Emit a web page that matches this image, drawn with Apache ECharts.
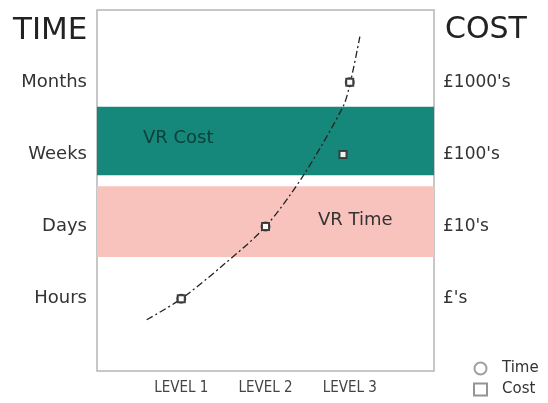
<!DOCTYPE html>
<html>
<head>
<meta charset="utf-8">
<script src="https://cdn.jsdelivr.net/npm/echarts@6/dist/echarts.min.js"></script>
<style>
  html, body { margin: 0; padding: 0; background: #fff; }
  #chart { width: 548px; height: 403px; }
</style>
</head>
<body>
<div id="chart"></div>
<script>
// axis labels (index = value on the axis)
var timeLabels = ["", "Hours", "Days", "Weeks", "Months", ""];
var costLabels = ["", "£'s", "£10's", "£100's", "£1000's", ""];
var levelLabels = ["", "LEVEL 1", "LEVEL 2", "LEVEL 3", ""];

// marker points [level, scale value]
var timePoints = [[1, 1], [2, 2], [3, 4]];
var costPoints = [[1, 1], [2, 2], [3, 4], [2.92, 3]];

// the dashed trend curve
var curvePoints = [[0.59, 0.71], [1, 1], [1.5, 1.47], [2, 2], [2.45, 2.71], [2.92, 3.66], [3, 3.96], [3.12, 4.63]];

// shaded bands [from, to]
var costBand = [2.71, 3.66];
var timeBand = [1.58, 2.56];

var chart = echarts.init(document.getElementById("chart"));
var font = "DejaVu Sans";

var option = {
   animation: false,
   title: [
      { text: "TIME", left: 8, top: 10, textStyle: { fontFamily: font, fontSize: 31, fontWeight: "normal", color: "#222" } },
      { text: "COST", left: 440, top: 10, textStyle: { fontFamily: font, fontSize: 30, fontWeight: "normal", color: "#222" } }
   ],
   legend: {
      data: ["Time", "Cost"],
      orient: "vertical",
      left: 473,
      top: 361,
      height: 42,
      padding: 0,
      itemWidth: 13,
      itemHeight: 12,
      itemGap: 6,
      itemStyle: { color: "#888" },
      textStyle: { fontFamily: font, fontSize: 15, color: "#333", padding: [0, 0, 0, 10] }
   },
   grid: {
      left: 97, right: 114, top: 10, bottom: 32,
      show: true, borderColor: "#b5b5b5", borderWidth: 1.5
   },
   xAxis: {
      type: "value", min: 0, max: 4, interval: 1,
      axisLine: { show: false }, axisTick: { show: false }, splitLine: { show: false },
      axisLabel: {
         margin: 10, color: "#444", fontFamily: "DejaVu Sans Condensed", fontSize: 15,
         formatter: function (v) { return levelLabels[v] || ""; }
      }
   },
   yAxis: [{
      type: "value", min: 0, max: 5, interval: 1, position: "left",
      axisLine: { show: false }, axisTick: { show: false }, splitLine: { show: false },
      axisLabel: {
         margin: 10, color: "#333", fontFamily: font, fontSize: 18,
         formatter: function (v) { return timeLabels[v] || ""; }
      }
   }, {
      type: "value", min: 0, max: 5, interval: 1, position: "right",
      axisLine: { show: false }, axisTick: { show: false }, splitLine: { show: false },
      axisLabel: {
         margin: 9, color: "#333", fontFamily: font, fontSize: 17,
         formatter: function (v) { return costLabels[v] || ""; }
      }
   }],
   series: [{
      name: "curve",
      type: "line",
      smooth: 0.3,
      symbol: "none",
      data: curvePoints,
      lineStyle: { color: "#222", width: 1.3, type: [7, 3, 2, 3] },
      z: 3,
      markArea: {
         silent: true,
         data: [
            [{ yAxis: costBand[0], itemStyle: { color: "#16877b" },
               label: { show: true, position: [46, 32], verticalAlign: "middle", align: "left",
                        formatter: "VR Cost", color: "#0b3f39", fontFamily: font, fontSize: 18 } },
             { yAxis: costBand[1] }],
            [{ yAxis: timeBand[0], itemStyle: { color: "#f9c3bd" },
               label: { show: true, position: [221, 34], verticalAlign: "middle", align: "left",
                        formatter: "VR Time", color: "#333", fontFamily: font, fontSize: 18 } },
             { yAxis: timeBand[1] }]
         ]
      }
   }, {
      name: "Time",
      type: "scatter",
      symbol: "emptyCircle",
      symbolSize: 8,
      data: timePoints,
      itemStyle: { color: "#333", borderWidth: 1.2 },
      z: 4
   }, {
      name: "Cost",
      type: "scatter",
      symbol: "emptyRect",
      symbolSize: 7,
      data: costPoints,
      itemStyle: { color: "#333", borderWidth: 1.2, opacity: 0.9 },
      z: 4
   }]
};

chart.setOption(option);
</script>
</body>
</html>
